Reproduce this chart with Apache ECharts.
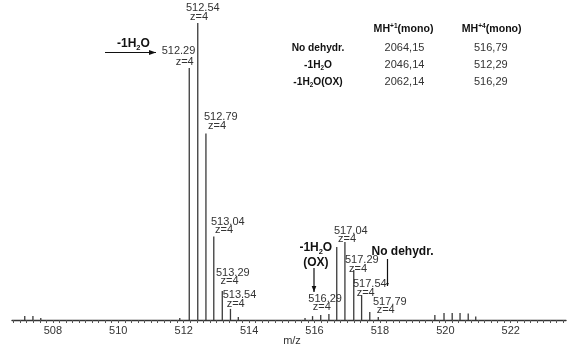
<!DOCTYPE html>
<html>
<head>
<meta charset="utf-8">
<script src="https://cdn.jsdelivr.net/npm/echarts@6/dist/echarts.min.js"></script>
<style>
html,body{margin:0;padding:0;background:#fff;}
#chart{width:571px;height:349px;}
</style>
</head>
<body>
<div id="chart"></div>
<script>
// ---- data ----
const peakMz = [507.14, 507.39, 507.63,
  511.88, 512.17, 512.43, 512.68, 512.92, 513.18, 513.43, 513.67,
  515.71, 515.94, 516.19, 516.44, 516.68, 516.93, 517.20, 517.44, 517.69, 517.95,
  519.68, 519.96, 520.21, 520.45, 520.70, 520.93];
const peakIntensity = [1.3, 1.3, 0.7,
  0.7, 84.0, 99.0, 62.2, 27.8, 9.7, 3.7, 1.0,
  0.7, 1.3, 1.7, 2.0, 24.3, 26.0, 16.7, 8.3, 2.7, 1.0,
  1.7, 2.3, 2.3, 2.3, 2.2, 1.2];
const xTickLabels = [508, 510, 512, 514, 516, 518, 520, 522];
const peakLabels = ['512.29', '512.54', '512.79', '513.04', '513.29', '513.54',
  '516.29', '517.04', '517.29', '517.54', '517.79'];
const chargeLabel = 'z=4';
const tableHeaders = ['MH', '+1', '(mono)', 'MH', '+4', '(mono)'];
const tableRows = ['No dehydr.', '-1H2O', '-1H2O(OX)'];
const tableMH1 = ['2064,15', '2046,14', '2062,14'];
const tableMH4 = ['516,79', '512,29', '516,29'];

// ---- chart ----
const FONT = '"Liberation Sans", Arial, sans-serif';
const TXT = '#333333';
const tickVals = [];
for (let i = 0; i <= 84; i++) tickVals.push(Math.round((506.8 + i * 0.2) * 10) / 10);

const seriesData = peakMz.map((m, i) => [m, peakIntensity[i]]);

// label placements (left x, digit-top y, z dx, z dy) in pixels
const labelPos = [
  [161.7, 47, 14, 11], [186, 4, 4, 9], [204, 113, 4, 9], [211, 218, 4, 8.5],
  [216, 269, 4.5, 8.5], [222.7, 291.5, 4, 8.5], [308.3, 295, 4.5, 8.5],
  [334, 227.5, 4, 8], [345, 256, 4, 9], [353, 280, 3.7, 9], [373, 298, 3.7, 8.5]
];
const graphics = [];
peakLabels.forEach((t, i) => {
  const p = labelPos[i];
  graphics.push({type: 'text', x: p[0], y: p[1] - 2, z: 10,
    style: {text: t, fontSize: 11, fontFamily: FONT, fill: TXT, align: 'left', verticalAlign: 'top'}});
  graphics.push({type: 'text', x: p[0] + p[2], y: p[1] + p[3] - 2, z: 10,
    style: {text: chargeLabel, fontSize: 11, fontFamily: FONT, fill: TXT, align: 'left', verticalAlign: 'top'}});
});

const richBold = (size) => ({
  b: {fontSize: size, fontWeight: 'bold', fontFamily: FONT, fill: '#111', lineHeight: size + 3, verticalAlign: 'middle'},
  sub: {fontSize: size * 0.62, fontWeight: 'bold', fontFamily: FONT, fill: '#111', lineHeight: size * 0.62, verticalAlign: 'bottom'},
  sup: {fontSize: size * 0.62, fontWeight: 'bold', fontFamily: FONT, fill: '#111', lineHeight: size * 0.62, verticalAlign: 'top'}
});
const formula = (s) => s.replace('H2O', 'H{sub|2}{b|O').replace(/^(.*)$/, '{b|$1}').replace(/\{b\|([^{}]*)\{sub\|2\}\{b\|/, '{b|$1}{sub|2}{b|');

function richText(x, y, text, size, align) {
  graphics.push({type: 'text', x: x, y: y, z: 10,
    style: {text: text, align: align || 'center', verticalAlign: 'middle', rich: richBold(size), fontFamily: FONT, fontSize: size}});
}
// table headers
richText(403.5, 29.5, '{b|' + tableHeaders[0] + '}{sup|' + tableHeaders[1] + '}{b|' + tableHeaders[2] + '}', 10.6);
richText(491.7, 29.5, '{b|' + tableHeaders[3] + '}{sup|' + tableHeaders[4] + '}{b|' + tableHeaders[5] + '}', 10.6);
const rowY = [48, 65, 82];
tableRows.forEach((r, i) => {
  richText(318, rowY[i], formula(r), 10.2);
  graphics.push({type: 'text', x: 404.5, y: rowY[i], z: 10,
    style: {text: tableMH1[i], fontSize: 11, fontFamily: FONT, fill: TXT, align: 'center', verticalAlign: 'middle'}});
  graphics.push({type: 'text', x: 490.8, y: rowY[i], z: 10,
    style: {text: tableMH4[i], fontSize: 11, fontFamily: FONT, fill: TXT, align: 'center', verticalAlign: 'middle'}});
});

// annotations
richText(117, 43.5, formula('-1H2O'), 12, 'left');
richText(315.8, 247.5, formula('-1H2O'), 12, 'center');
richText(315.8, 262.5, '{b|(OX)}', 12, 'center');
richText(371.5, 251.5, '{b|No dehydr.}', 12, 'left');

function arrow(x1, y1, x2, y2, head) {
  graphics.push({type: 'line', z: 10, shape: {x1: x1, y1: y1, x2: x2, y2: y2},
    style: {stroke: '#111', lineWidth: 1.2}});
  if (head) {
    const dx = x2 - x1, dy = y2 - y1, L = Math.sqrt(dx * dx + dy * dy);
    const ux = dx / L, uy = dy / L, hl = head[0], hw = head[1];
    graphics.push({type: 'polygon', z: 10, shape: {points: [
      [x2, y2], [x2 - ux * hl - uy * hw, y2 - uy * hl + ux * hw], [x2 - ux * hl + uy * hw, y2 - uy * hl - ux * hw]]},
      style: {fill: '#111'}});
  }
}
arrow(105, 52.5, 156, 52.5, [7, 2.6]);
arrow(314, 268, 314, 292, [6, 2.3]);
arrow(387.5, 259, 387.5, 286, [3, 1.3]);

graphics.push({type: 'text', x: 292, y: 341, z: 10,
  style: {text: 'm/z', fontSize: 11, fontFamily: FONT, fill: TXT, align: 'center', verticalAlign: 'middle'}});

const chart = echarts.init(document.getElementById('chart'), null, {renderer: 'canvas'});
chart.setOption({
  animation: false,
  backgroundColor: '#ffffff',
  grid: {left: 12, right: 5, top: 20, bottom: 29, containLabel: false},
  xAxis: {
    type: 'value', min: 506.75, max: 523.69,
    axisLine: {show: true, onZero: false, lineStyle: {color: '#333', width: 1.4}},
    axisTick: {show: true, customValues: tickVals, length: 3, lineStyle: {color: '#555', width: 1}},
    axisLabel: {show: true, customValues: xTickLabels, margin: 5, fontSize: 11, fontFamily: FONT, color: TXT,
      formatter: (v) => String(v)},
    splitLine: {show: false}
  },
  yAxis: {type: 'value', min: 0, max: 100, show: false, splitLine: {show: false}},
  series: [{
    type: 'custom',
    data: seriesData,
    renderItem: function (params, api) {
      const x = api.value(0), y = api.value(1);
      const p0 = api.coord([x, 0]);
      const p1 = api.coord([x, y]);
      return {type: 'line', shape: {x1: p0[0], y1: p0[1], x2: p1[0], y2: p1[1]},
        style: {stroke: '#3a3a3a', lineWidth: 1.3}};
    },
    encode: {x: 0, y: 1}
  }],
  graphic: graphics
});
</script>
</body>
</html>
